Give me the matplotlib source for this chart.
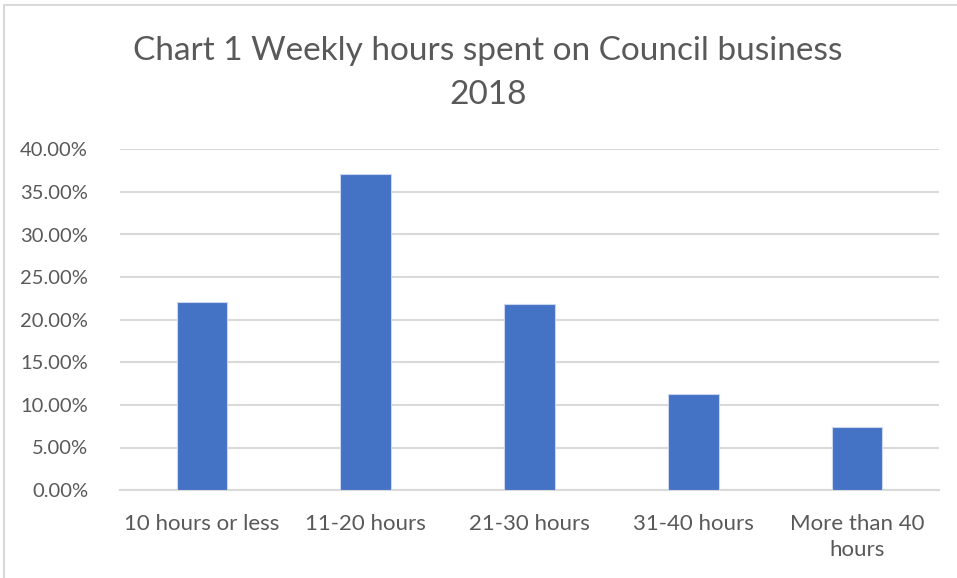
import matplotlib
matplotlib.use("Agg")
import matplotlib.pyplot as plt
from matplotlib.patches import Rectangle
from matplotlib.ticker import FuncFormatter, MultipleLocator

categories = ["10 hours or less", "11-20 hours", "21-30 hours", "31-40 hours", "More than 40\nhours"]
values = [22.04, 37.1, 21.9, 11.24, 7.37]
title = "Chart 1 Weekly hours spent on Council business\n2018"

plt.rcParams['font.family'] = ['Lato', 'DejaVu Sans']
W, H = 957, 578
fig = plt.figure(figsize=(W/100, H/100), dpi=100)
fig.patch.set_facecolor("white")
fig.patches.append(Rectangle((4/W, -0.01), 1.1, 1 - 5/H + 0.01, transform=fig.transFigure,
                             fill=False, edgecolor="#D9D9D9", linewidth=1.5))

ax = fig.add_axes([120/W, 1 - 490.1/H, (939-120)/W, (490.1-149.3)/H])
x = range(len(categories))
ax.bar(x, values, width=0.31, color="#4472C4", edgecolor="#C9D6EE", linewidth=0.8, zorder=3)
ax.set_xlim(-0.5, len(categories) - 0.5)
ax.set_ylim(0, 40)
ax.yaxis.set_major_locator(MultipleLocator(5))
ax.yaxis.set_major_formatter(FuncFormatter(lambda v, p: f"{v:.2f}%"))
ax.grid(axis="y", color="#D9D9D9", linewidth=1.5, zorder=0)
ax.set_axisbelow(True)
for s in ["top", "right", "left"]:
    ax.spines[s].set_visible(False)
ax.spines["bottom"].set_color("#D9D9D9")
ax.spines["bottom"].set_linewidth(1.5)
ax.set_xticks(list(x))
ax.set_xticklabels(categories, linespacing=1.4)
ax.tick_params(axis="both", length=0, colors="#595959")
ax.tick_params(axis="y", labelsize=14.5, pad=23)
ax.tick_params(axis="x", labelsize=16, pad=17)

fig.text(488/W, 1 - 73/H, title, ha="center", va="center", fontsize=24, color="#595959", linespacing=1.55)

fig.savefig("out.png", dpi=100)
